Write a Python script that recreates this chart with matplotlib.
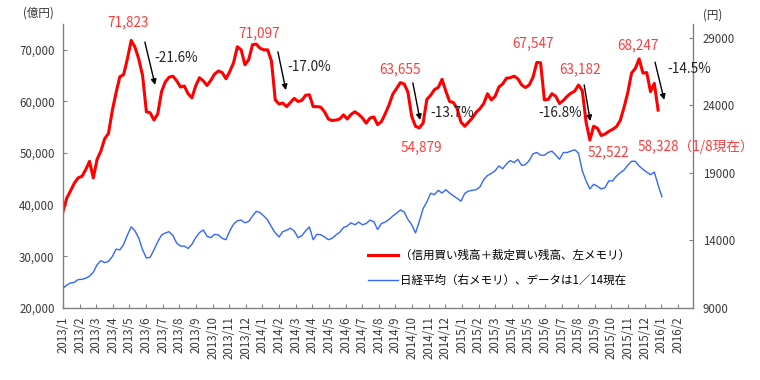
import numpy as np
import matplotlib
matplotlib.use("Agg")
import matplotlib.pyplot as plt

plt.rcParams["font.family"] = ["Noto Sans CJK JP", "DejaVu Sans"]

# weekly values, 2013/1 .. 2016/1/8 (億円)
margin_balance = [
    38700, 41300, 42700, 44200, 45200, 45500, 46800, 48400, 45200, 48800,
    50400, 52800, 53800, 58200, 61700, 64800, 65200, 68300, 71823, 70500,
    68200, 65000, 58000, 57800, 56400, 57600, 61900, 63800, 64700, 64900,
    64000, 62800, 63000, 61500, 60700, 63000, 64600, 64000, 63100, 64100,
    65300, 65900, 65600, 64400, 65800, 67500, 70600, 70000, 67100, 68100,
    71000, 71097, 70300, 70000, 70000, 67800, 60300, 59500, 59700, 59000,
    59800, 60600, 60000, 60200, 61200, 61300, 59000, 59000, 58900, 58000,
    56600, 56300, 56400, 56600, 57400, 56600, 57500, 58000, 57500, 56800,
    55800, 56800, 57000, 55500, 56100, 57600, 59300, 61400, 62500, 63655,
    63400, 61800, 57100, 55200, 54879, 55800, 60400, 61200, 62300, 62700,
    64300, 62000, 60000, 59800, 58600, 56000, 55200, 56000, 56800, 57900,
    58600, 59600, 61500, 60300, 61000, 62800, 63400, 64500, 64600, 64900,
    64400, 63200, 62700, 63200, 64700, 67547, 67500, 60300, 60400, 61500,
    61000, 59600, 60200, 61000, 61600, 62000, 63182, 62100, 56000, 52522,
    55200, 54800, 53400, 53700, 54200, 54600, 55100, 56300, 58800, 61700,
    65500, 66400, 68247, 65500, 65600, 61900, 63500, 58328,
]

# weekly Nikkei average (円), data to 2016/1/14
nikkei = [
    10450, 10700, 10850, 10900, 11100, 11120, 11200, 11350, 11650, 12200,
    12500, 12350, 12450, 12800, 13350, 13300, 13700, 14400, 15000, 14700,
    14150, 13300, 12700, 12750, 13300, 13900, 14400, 14550, 14640, 14350,
    13800, 13580, 13580, 13400, 13700, 14200, 14570, 14770, 14300, 14200,
    14450, 14400, 14150, 14050, 14700, 15200, 15450, 15500, 15300, 15400,
    15800, 16150, 16050, 15800, 15500, 15000, 14550, 14250, 14650, 14750,
    14900, 14700, 14200, 14350, 14700, 15000, 14050, 14450, 14420, 14250,
    14050, 14150, 14400, 14600, 14950, 15060, 15300, 15150, 15350, 15150,
    15250, 15500, 15380, 14800, 15250, 15350, 15550, 15800, 16000, 16250,
    16100, 15550, 15150, 14550, 15400, 16350, 16850, 17480, 17380, 17700,
    17500, 17750, 17500, 17300, 17100, 16900, 17480, 17650, 17700, 17750,
    17950, 18500, 18800, 18950, 19150, 19500, 19300, 19650, 19900, 19750,
    19990, 19550, 19600, 19900, 20400, 20500, 20300, 20300, 20500, 20600,
    20300, 20000, 20500, 20500, 20600, 20700, 20450, 19150, 18400, 17800,
    18150, 18000, 17800, 17900, 18400, 18400, 18750, 19000, 19200, 19550,
    19850, 19850, 19500, 19250, 19050, 18850, 19050, 18100, 17230,
]

month_labels = [f"{y}/{m}" for y in (2013, 2014, 2015) for m in range(1, 13)] + ["2016/1", "2016/2"]

# peak / trough labels: (week, value, text)
peak_labels = [
    (18, 71823, "71,823"), (51, 71097, "71,097"), (89, 63655, "63,655"),
    (125, 67547, "67,547"), (136, 63182, "63,182"), (152, 68247, "68,247"),
]
low_labels = [
    (94, 54879, "54,879"), (139, 52522, "52,522"), (157, 58328, "58,328（1/8現在）"),
]
drops = ["-21.6%", "-17.0%", "-13.7%", "-16.8%", "-14.5%"]

RED = "#FF0000"
TXT_RED = "#FF3B3B"
BLUE = "#3366FF"
GRAY = "#808080"
FS = 8.3
WEEKS_PER_TICK = 4.385

fig = plt.figure(figsize=(7.6, 3.8), dpi=100)
ax = fig.add_axes([0.0829, 0.1895, 0.8289, 0.7473])
ax2 = ax.twinx()

ax.plot(np.arange(len(margin_balance)), margin_balance, color=RED, lw=2.2,
        label="（信用買い残高＋裁定買い残高、左メモリ）")
ax2.plot(np.arange(len(nikkei)), nikkei, color=BLUE, lw=1.0,
         label="日経平均（右メモリ）、データは1／14現在")

ax.set_xlim(0, 166.2)
ax.set_ylim(20000, 75000)
ax2.set_ylim(9000, 30000)

ax.set_yticks(range(20000, 70001, 10000))
ax.set_yticklabels([f"{v:,}" for v in range(20000, 70001, 10000)])
ax2.set_yticks(range(9000, 29001, 5000))
ax.set_xticks(np.arange(len(month_labels)) * WEEKS_PER_TICK)
ax.set_xticklabels(month_labels, rotation=90)

for a in (ax, ax2):
    a.spines["top"].set_visible(False)
    for s in a.spines.values():
        s.set_color(GRAY)
        s.set_linewidth(1.0)
ax2.spines["left"].set_visible(False)
ax2.spines["bottom"].set_visible(False)
ax.spines["right"].set_visible(False)

ax.tick_params(axis="y", direction="in", length=3, pad=6, labelsize=FS, colors="#3a3a3a", color=GRAY)
ax.tick_params(axis="x", direction="in", length=3, pad=6, labelsize=FS, colors="#3a3a3a", color=GRAY)
ax2.tick_params(axis="y", direction="in", length=3, pad=7, labelsize=FS, colors="#3a3a3a", color=GRAY)

# peak / trough values
peak_offsets = [(-0.7, 3570), (0.7, 2160), (-0.1, 2630), (-1.0, 3770), (0.4, 3100), (-0.3, 2680)]
for (w, v, t), (dx, dy) in zip(peak_labels, peak_offsets):
    ax.text(w + dx, v + dy, t, color=TXT_RED, fontsize=FS + 1.5, ha="center", va="center")
low_offsets = [(0.5, -3700), (4.8, -2310), (-5.3, -7150)]
for (w, v, t), (dx, dy) in zip(low_labels, low_offsets):
    ha = "left" if "現在" in t else "center"
    ax.text(w + dx, v + dy, t, color=TXT_RED, fontsize=FS + 1.5, ha=ha, va="center")

# drop arrows and percentages
arrows = [((21.6, 71500), (24.3, 63200)), ((56.7, 69600), (58.8, 62200)),
          ((92.3, 63600), (94.2, 56400)), ((137.5, 63200), (139.1, 56200)),
          ((156.2, 67600), (158.6, 60300))]
pct_pos = [(24.0, 68400), (59.1, 66670), (96.8, 57760), (125.3, 57760), (159.4, 66280)]
for (start, end), (px, py), t in zip(arrows, pct_pos, drops):
    ax.annotate("", xy=end, xytext=start, annotation_clip=False,
                arrowprops=dict(arrowstyle="-|>", color="black", lw=1.0, mutation_scale=8,
                                shrinkA=0, shrinkB=0))
    ax2.text(px, 9000 + (py - 20000) * 21000 / 55000, t, color="#222222",
             fontsize=FS + 1.5, ha="left", va="center")

h1, l1 = ax.get_legend_handles_labels()
h2, l2 = ax2.get_legend_handles_labels()
ax2.legend(h1 + h2, l1 + l2, loc="center left", bbox_to_anchor=(0.484, 0.141),
           frameon=False, fontsize=FS, handlelength=2.6, handletextpad=0.2,
           labelspacing=1.1, borderpad=0, borderaxespad=0)

fig.text(0.051, 0.966, "(億円)", fontsize=FS, color="#333333", ha="center", va="center")
fig.text(0.938, 0.96, "(円)", fontsize=FS, color="#333333", ha="center", va="center")

fig.savefig("out.png", dpi=100)
